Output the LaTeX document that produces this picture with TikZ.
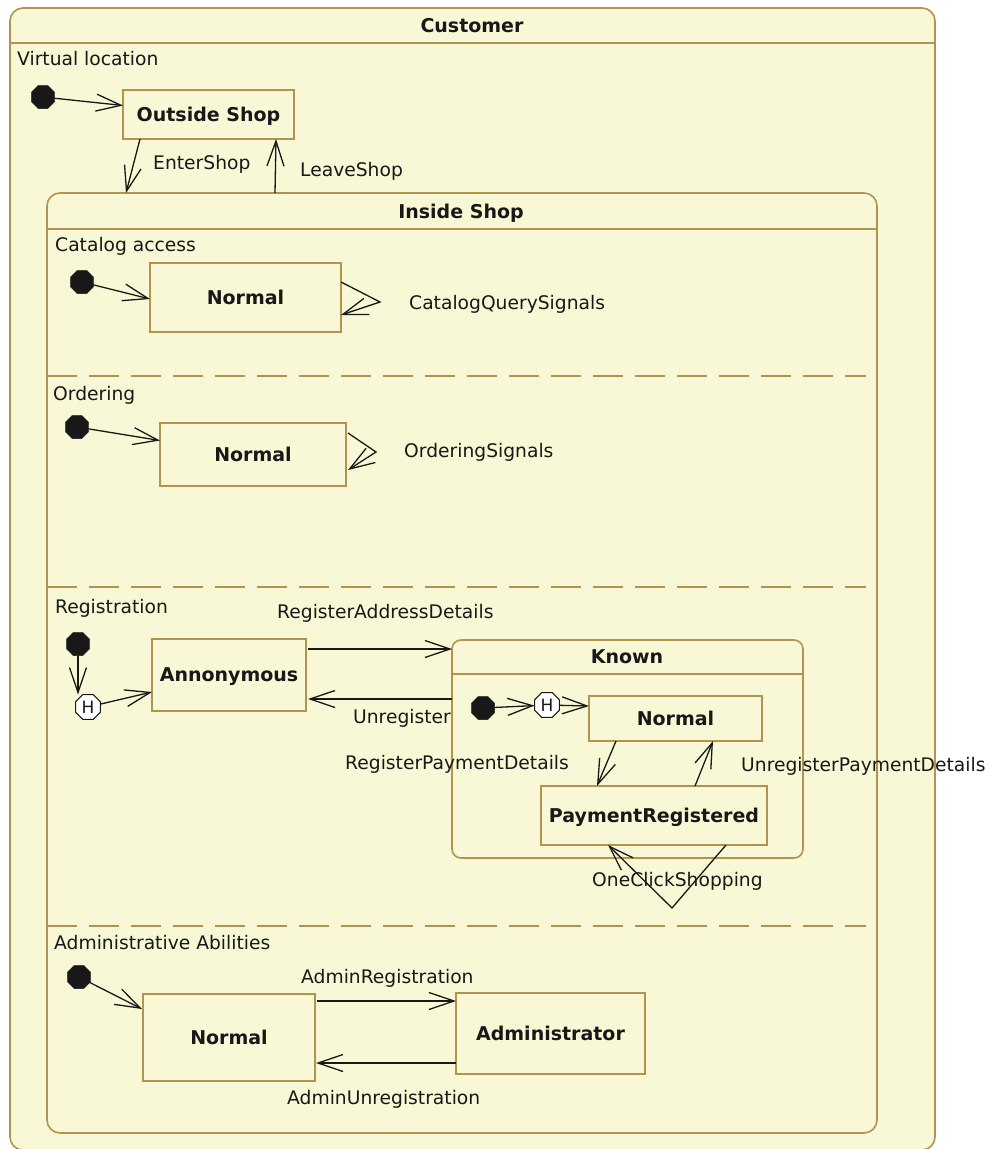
\documentclass[tikz,border=0pt]{standalone}
\usepackage{fontspec}
\setmainfont{DejaVu Sans}
\usetikzlibrary{arrows.meta,shapes.geometric,calc}
\definecolor{umlfill}{RGB}{248,248,214}
\definecolor{umlline}{RGB}{178,148,78}
\definecolor{ink}{RGB}{24,24,24}
\begin{document}
\begin{tikzpicture}[x=1pt,y=-1pt,
  composite/.style={draw=umlline,fill=umlfill,line width=1.6pt,inner sep=0pt,outer sep=0pt},
  stbox/.style={draw=umlline,fill=umlfill,line width=1.6pt,inner sep=0pt,outer sep=0pt,
    font=\fontsize{19}{22}\selectfont\bfseries,text=ink,text height=13.5pt,text depth=0pt},
  initdot/.style={regular polygon,regular polygon sides=8,fill=ink,draw=ink,
    minimum size=25pt,inner sep=0pt,outer sep=0pt},
  hist/.style={regular polygon,regular polygon sides=8,fill=white,draw=ink,line width=1pt,
    minimum size=27pt,inner sep=0pt,outer sep=0pt,font=\fontsize{17}{18}\selectfont,text=ink},
  lbl/.style={font=\fontsize{18.7}{22}\selectfont,text=ink,inner sep=0pt,anchor=base west},
  ttl/.style={font=\fontsize{19}{22}\selectfont\bfseries,text=ink,inner sep=0pt,anchor=base},
  conn/.style={draw=ink,line width=1.3pt,-{Straight Barb[length=25pt,width=17pt]}},
  plainline/.style={draw=umlline,line width=1.6pt},
  sep/.style={draw=umlline,line width=1.6pt,dash pattern=on 30pt off 12pt}
]
\useasboundingbox (0,0) rectangle (989,1149);
\fill[white] (0,0) rectangle (989,1149);

% ---------- Customer ----------
\node[composite,rounded corners=13pt,minimum width=925pt,minimum height=1142pt] (customer) at (472.5,579) {};
\draw[plainline] ($(customer.north west)+(0,35)$) -- ($(customer.north east)+(0,35)$);
\node[ttl] (tCustomer) at (472,32) {Customer};
\node[lbl] (lVirtual) at (17,65) {Virtual location};

% ---------- Outside Shop ----------
\node[initdot] (init1) at (43,97) {};
\node[stbox,minimum width=171pt,minimum height=49pt] (outside) at (208.5,114.5) {Outside Shop};

% ---------- Inside Shop ----------
\node[composite,rounded corners=13pt,minimum width=830pt,minimum height=940pt] (inside) at (462,663) {};
\draw[plainline] ($(inside.north west)+(0,36)$) -- ($(inside.north east)+(0,36)$);
\node[ttl] (tInside) at (461,218) {Inside Shop};
\draw[sep] ($(inside.north west)+(0,183)$) -- ++(819,0);
\draw[sep] ($(inside.north west)+(0,394)$) -- ++(819,0);
\draw[sep] ($(inside.north west)+(0,733)$) -- ++(819,0);

\draw[conn] ($(outside.south west)+(17,0)$) -- ($(inside.north west)+(79,0)$);
\draw[conn] ($(inside.north west)+(228,0)$) -- ($(outside.south west)+(153,0)$);
\node[lbl] (lEnter) at (153,169) {EnterShop};
\node[lbl] (lLeave) at (300,176) {LeaveShop};
\draw[conn] (init1) -- ($(outside.west)+(0,-9)$);

% ---------- Catalog access ----------
\node[lbl] (lCatalog) at (55,251) {Catalog access};
\node[initdot] (init2) at (82,282) {};
\node[stbox,minimum width=191pt,minimum height=69pt] (cat) at (245.5,297.5) {Normal};
\draw[conn] (init2) -- ($(cat.west)+(0,1.5)$);
\coordinate (catloop) at (380,302);
\draw[conn] ($(cat.east)+(0,-15.5)$) -- (catloop) -- ($(cat.east)+(0,17.5)$);
\node[lbl] (lCatSig) at (409,309) {CatalogQuerySignals};

% ---------- Ordering ----------
\node[lbl] (lOrdering) at (53,400) {Ordering};
\node[initdot] (init3) at (77,427) {};
\node[stbox,minimum width=186pt,minimum height=63pt] (ord) at (253,454.5) {Normal};
\draw[conn] (init3) -- ($(ord.west)+(0,-14)$);
\coordinate (ordloop) at (376,452);
\draw[conn] ($(ord.east)+(2,-21.5)$) -- (ordloop) -- ($(ord.east)+(2,15.5)$);
\node[lbl] (lOrdSig) at (404,457) {OrderingSignals};

% ---------- Registration ----------
\node[lbl] (lRegistration) at (55,613) {Registration};
\node[initdot] (init4) at (78,644) {};
\node[hist] (h1) at (88,707) {H};
\node[stbox,minimum width=154pt,minimum height=72pt] (anon) at (229,675) {Annonymous};
\draw[conn] (init4) -- (init4 |- h1.north);
\draw[conn] (h1) -- ($(anon.west)+(0,17)$);

\node[composite,rounded corners=9pt,minimum width=351pt,minimum height=218pt] (known) at (627.5,749) {};
\draw[plainline] ($(known.north west)+(0,34)$) -- ($(known.north east)+(0,34)$);
\node[ttl] (tKnown) at (627,663) {Known};

\draw[conn] ($(anon.north east)+(2,10)$) -- ($(known.north west)+(0,9)$);
\draw[conn] ($(known.north west)+(0,59)$) -- ($(anon.south east)+(2,-12)$);
\node[lbl] (lRegAddr) at (277,618) {RegisterAddressDetails};
\node[lbl] (lUnreg) at (353,723) {Unregister};

\node[initdot] (init5) at (483,708) {};
\node[hist] (h2) at (547,705) {H};
\node[stbox,minimum width=173pt,minimum height=45pt] (knormal) at (675.5,718.5) {Normal};
\node[stbox,minimum width=226pt,minimum height=59pt] (pr) at (654,815.5) {PaymentRegistered};
\draw[conn] (init5) -- (h2);
\draw[conn] (h2) -- ($(knormal.west)+(0,-12.5)$);
\draw[conn] ($(knormal.south west)+(27,0)$) -- ($(pr.north west)+(56,0)$);
\draw[conn] ($(pr.north west)+(154,0)$) -- ($(knormal.south west)+(124,0)$);
\coordinate (clickloop) at (672,908);
\draw[conn] ($(pr.south west)+(185,0)$) -- (clickloop) -- ($(pr.south west)+(67,0)$);
\node[lbl] (lRegPay) at (345,769) {RegisterPaymentDetails};
\node[lbl] (lUnregPay) at (741,771) {UnregisterPaymentDetails};
\node[lbl] (lOneClick) at (592,886) {OneClickShopping};

% ---------- Administrative Abilities ----------
\node[lbl] (lAdmin) at (54,949) {Administrative Abilities};
\node[initdot] (init6) at (79,977) {};
\node[stbox,minimum width=172pt,minimum height=87pt] (anorm) at (229,1037.5) {Normal};
\node[stbox,minimum width=189pt,minimum height=81pt] (admin) at (550.5,1033.5) {Administrator};
\draw[conn] (init6) -- ($(anorm.north west)+(-1,15)$);
\draw[conn] ($(anorm.north east)+(2,7)$) -- ($(admin.north west)+(0,8)$);
\draw[conn] ($(admin.south west)+(0,-11)$) -- ($(anorm.south east)+(1,-18)$);
\node[lbl] (lAdminReg) at (301,983) {AdminRegistration};
\node[lbl] (lAdminUnreg) at (287,1104) {AdminUnregistration};
\end{tikzpicture}
\end{document}
